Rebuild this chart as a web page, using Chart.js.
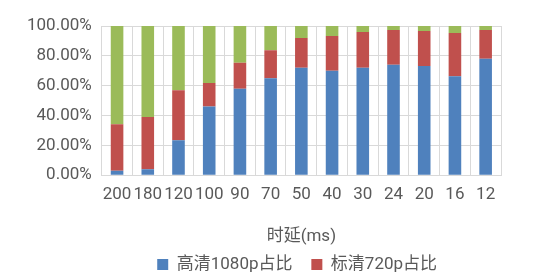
<!DOCTYPE html>
<html>
<head>
<meta charset="utf-8">
<script src="https://cdn.jsdelivr.net/npm/chart.js@4"></script>
<style>
  html, body { margin: 0; padding: 0; background: #fff; }
  #wrap { width: 542px; height: 280px; }
</style>
</head>
<body>
<div id="wrap"><canvas id="chart"></canvas></div>
<script>
// latency buckets (ms) along the x axis
const categories = ['200', '180', '120', '100', '90', '70', '50', '40', '30', '24', '20', '16', '12'];

// share of each resolution, in percent
const hd1080 = [3, 4, 23.5, 46, 58, 65, 72, 70, 72, 74, 73.2, 66.4, 78];
const sd720 = [31.2, 35, 33.5, 15.8, 17.3, 18.8, 20, 23.3, 24, 23.3, 23.4, 28.9, 19.3];
const other = [65.8, 61, 43, 38.2, 24.7, 16.2, 8, 6.7, 4, 2.7, 3.4, 4.7, 2.7];

const yTickLabels = ['0.00%', '20.00%', '40.00%', '60.00%', '80.00%', '100.00%'];

const FONT = "Roboto, 'Noto Sans CJK SC', sans-serif";
const TEXT = '#595959';
const GRID = '#d9d9d9';

// only the first two series get a legend entry; spaces widen the gap and nudge it left
function legendItems(chart) {
    const items = Chart.defaults.plugins.legend.labels.generateLabels(chart)
        .filter(item => item.datasetIndex < 2);
    items[0].text += '    ';
    items[1].text += '  ';
    return items;
}

new Chart(document.getElementById('chart'), {
    type: 'bar',
    data: {
        labels: categories,
        datasets: [
            { label: '高清1080p占比', data: hd1080, backgroundColor: '#4f81bd' },
            { label: '标清720p占比', data: sd720, backgroundColor: '#c0504d' },
            { label: '其他', data: other, backgroundColor: '#9bbb59' }
        ]
    },
    options: {
        responsive: true,
        maintainAspectRatio: false,
        animation: false,
        layout: { padding: { left: 17, right: 41, top: 26, bottom: -3 } },
        datasets: { bar: { categoryPercentage: 0.41, barPercentage: 1 } },
        plugins: {
            tooltip: { enabled: false },
            legend: {
                position: 'bottom',
                fullSize: false,
                labels: {
                    color: TEXT,
                    font: { family: FONT, size: 17 },
                    boxWidth: 11,
                    boxHeight: 11,
                    padding: 2,
                    generateLabels: legendItems
                }
            }
        },
        scales: {
            x: {
                stacked: true,
                grid: { color: GRID, drawTicks: false, offset: true },
                border: { color: GRID },
                ticks: {
                    color: TEXT,
                    font: { family: FONT, size: 17 },
                    padding: 9,
                    autoSkip: false,
                    maxRotation: 0
                },
                title: {
                    display: true,
                    text: '时延(ms)',
                    color: TEXT,
                    font: { family: FONT, size: 17 },
                    padding: { top: 13, bottom: 7 }
                }
            },
            y: {
                stacked: true,
                min: 0,
                max: 100,
                grid: { color: GRID, drawTicks: false },
                border: { display: false },
                ticks: {
                    stepSize: 20,
                    color: TEXT,
                    font: { family: FONT, size: 17 },
                    padding: 10,
                    callback: (v, i) => yTickLabels[i]
                }
            }
        }
    }
});
</script>
</body>
</html>
